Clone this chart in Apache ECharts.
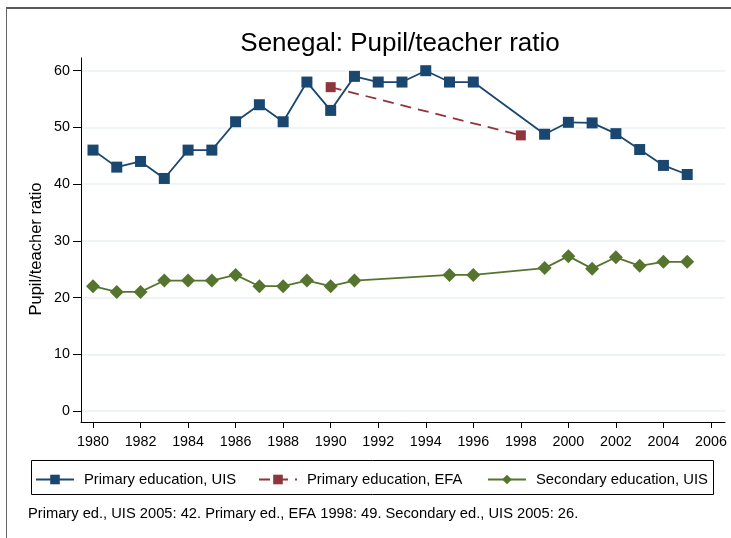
<!DOCTYPE html>
<html>
<head>
<meta charset="utf-8">
<script src="https://cdn.jsdelivr.net/npm/echarts@6/dist/echarts.min.js"></script>
<style>
  html, body { margin: 0; padding: 0; background: #fff; }
  #chart { width: 731px; height: 538px; }
</style>
</head>
<body>
<div id="chart"></div>
<script>
// 数据
const primaryUisYears = [1980, 1981, 1982, 1983, 1984, 1985, 1986, 1987, 1988, 1989, 1990, 1991, 1992, 1993, 1994, 1995, 1996, 1999, 2000, 2001, 2002, 2003, 2004, 2005]
const primaryUisValues = [46, 43, 44, 41, 46, 46, 51, 54, 51, 58, 53, 59, 58, 58, 60, 58, 58, 48.8, 50.9, 50.8, 48.9, 46.1, 43.3, 41.7]

const primaryEfaYears = [1990, 1998]
const primaryEfaValues = [57.1, 48.6]

const secondaryUisYears = [1980, 1981, 1982, 1983, 1984, 1985, 1986, 1987, 1988, 1989, 1990, 1991, 1995, 1996, 1999, 2000, 2001, 2002, 2003, 2004, 2005]
const secondaryUisValues = [22, 21, 21, 23, 23, 23, 24, 22, 22, 23, 22, 23, 24, 24, 25.2, 27.3, 25.1, 27.1, 25.6, 26.3, 26.3]

const xTicks = [1980, 1982, 1984, 1986, 1988, 1990, 1992, 1994, 1996, 1998, 2000, 2002, 2004, 2006]
const yTicks = [0, 10, 20, 30, 40, 50, 60]

const titleText = 'Senegal: Pupil/teacher ratio'
const noteText = 'Primary ed., UIS 2005: 42. Primary ed., EFA 1998: 49. Secondary ed., UIS 2005: 26.'
const seriesNames = ['Primary education, UIS', 'Primary education, EFA', 'Secondary education, UIS']

const pairs = (xs, ys) => xs.map((x, i) => [x, ys[i]])

const FONT = 'Liberation Sans, Arial, sans-serif'
const BLUE = '#1a476f'
const RED = '#90353b'
const GREEN = '#55752f'

const chart = echarts.init(document.getElementById('chart'))

const legendBase = {
  orient: 'horizontal',
  top: 472,
  padding: 0,
  itemWidth: 38,
  itemHeight: 12,
  textStyle: { fontFamily: FONT, fontSize: 14.8, color: '#000', padding: [0, 0, 0, 5] },
  selectedMode: false
}

const option = {
  backgroundColor: '#fff',
  animation: false,
  title: [
    {
      text: titleText,
      left: 400,
      top: 31,
      padding: 0,
      textAlign: 'center',
      textStyle: { fontFamily: FONT, fontSize: 26, fontWeight: 'normal', color: '#000' }
    },
    {
      text: noteText,
      left: 28,
      top: 506,
      padding: 0,
      textStyle: { fontFamily: FONT, fontSize: 14.7, fontWeight: 'normal', color: '#000' }
    }
  ],
  legend: [
    Object.assign({}, legendBase, { left: 35, data: [seriesNames[0]] }),
    Object.assign({}, legendBase, { left: 258, data: [seriesNames[1]] }),
    Object.assign({}, legendBase, { left: 487, data: [seriesNames[2]] })
  ],
  graphic: [
    { type: 'line', shape: { x1: 6, y1: 8, x2: 731, y2: 8 }, style: { stroke: '#222', lineWidth: 1.5 } },
    { type: 'line', shape: { x1: 6.5, y1: 8, x2: 6.5, y2: 538 }, style: { stroke: '#666', lineWidth: 1 } },
    { type: 'rect', shape: { x: 31.5, y: 460.5, width: 682, height: 34 }, style: { fill: 'none', stroke: '#000', lineWidth: 1 } }
  ],
  grid: {
    left: 81,
    right: 6,
    top: 58,
    bottom: 116
  },
  xAxis: {
    type: 'value',
    min: 1979.495,
    max: 2006.59,
    axisLine: { show: true, onZero: false, lineStyle: { color: '#000', width: 1 } },
    axisTick: { show: true, length: 6, customValues: xTicks, lineStyle: { color: '#000' } },
    axisLabel: {
      customValues: xTicks,
      formatter: v => String(v),
      fontFamily: FONT,
      fontSize: 14.3,
      color: '#000',
      margin: 13,
      showMinLabel: true,
      showMaxLabel: true
    },
    splitLine: { show: false }
  },
  yAxis: {
    type: 'value',
    min: -1.94,
    max: 62.24,
    name: 'Pupil/teacher ratio',
    nameLocation: 'middle',
    nameGap: 36,
    nameMoveOverlap: false,
    nameTextStyle: { fontFamily: FONT, fontSize: 16.5, color: '#000', padding: [0, 18, 0, 0] },
    axisLine: { show: true, onZero: false, lineStyle: { color: '#000', width: 1 } },
    axisTick: { show: true, length: 8, customValues: yTicks, lineStyle: { color: '#000' } },
    axisLabel: {
      customValues: yTicks,
      fontFamily: FONT,
      fontSize: 14.3,
      color: '#000',
      margin: 11
    },
    splitLine: { show: true, lineStyle: { color: '#eaf2f3', width: 1.5 } }
  },
  series: [
    {
      name: seriesNames[0],
      type: 'line',
      data: pairs(primaryUisYears, primaryUisValues),
      symbol: 'rect',
      symbolSize: 11,
      showAllSymbol: true,
      itemStyle: { color: BLUE },
      lineStyle: { color: BLUE, width: 1.8 },
      z: 3
    },
    {
      name: seriesNames[1],
      type: 'line',
      data: pairs(primaryEfaYears, primaryEfaValues),
      symbol: 'rect',
      symbolSize: 10,
      itemStyle: { color: RED },
      lineStyle: { color: RED, width: 1.8, type: [11, 7] },
      z: 2
    },
    {
      name: seriesNames[2],
      type: 'line',
      data: pairs(secondaryUisYears, secondaryUisValues),
      symbol: 'diamond',
      symbolSize: 14,
      showAllSymbol: true,
      itemStyle: { color: GREEN },
      lineStyle: { color: GREEN, width: 1.8 },
      z: 3
    }
  ]
}

chart.setOption(option)
</script>
</body>
</html>
